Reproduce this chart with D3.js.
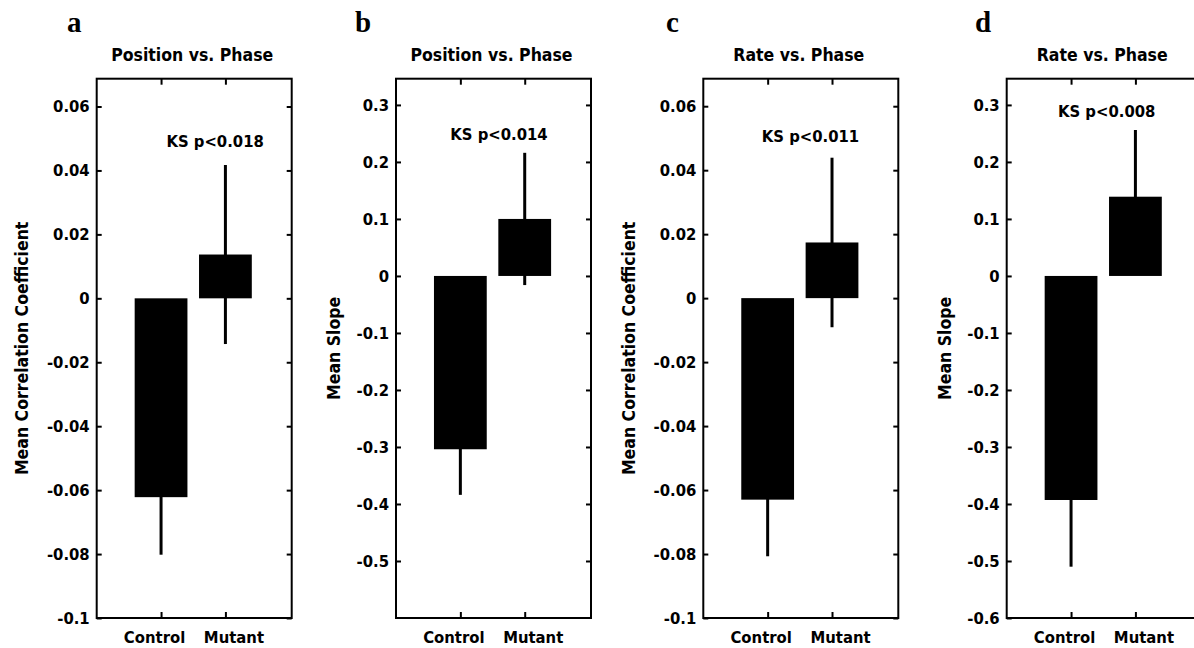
<!DOCTYPE html>
<html>
<head>
<meta charset="utf-8">
<script src="https://cdn.jsdelivr.net/npm/d3@7"></script>
<style>
  body { margin: 0; background: #fff; }
  text { font-family: "DejaVu Sans Condensed", "DejaVu Sans", sans-serif; font-stretch: condensed; font-weight: bold; fill: #000; }
</style>
</head>
<body>
<script>
// data
const panelLetters = ["a", "b", "c", "d"];
const panelTitles = ["Position vs. Phase", "Position vs. Phase", "Rate vs. Phase", "Rate vs. Phase"];
const yLabels = ["Mean Correlation Coefficient", "Mean Slope", "Mean Correlation Coefficient", "Mean Slope"];
const categories = ["Control", "Mutant"];
const controlMean = [-0.0622, -0.304, -0.063, -0.393];
const mutantMean = [0.0137, 0.100, 0.0174, 0.139];
const controlErr = [0.018, 0.080, 0.0177, 0.117];
const mutantErr = [0.028, 0.116, 0.0265, 0.117];
const ksLabels = ["KS p<0.018", "KS p<0.014", "KS p<0.011", "KS p<0.008"];
const corrTicks = [-0.1, -0.08, -0.06, -0.04, -0.02, 0, 0.02, 0.04, 0.06];
const slopeTicksB = [-0.5, -0.4, -0.3, -0.2, -0.1, 0, 0.1, 0.2, 0.3];
const slopeTicksD = [-0.6, -0.5, -0.4, -0.3, -0.2, -0.1, 0, 0.1, 0.2, 0.3];
const yTicks = [corrTicks, slopeTicksB, corrTicks, slopeTicksD];

// layout
const width = 1194, height = 648;
const plotTop = 78.7, plotBottom = 618, plotWidth = 195;
const panelLeft = [96.7, 396, 703.3, 1006.7];
const letterX = [67, 355, 666, 975];
const ylabelOffset = [68.5, 56, 68.5, 56];
const yDomains = [[-0.1, 0.0687], [-0.6, 0.346], [-0.1, 0.0686], [-0.6, 0.346]];
const annotPos = [[1.84, 0.0472], [1.60, 0.2386], [1.666, 0.0489], [1.554, 0.2795]];
const catLabelShift = [-7, 8];
const barWidth = 0.82;

const svg = d3.select("body").append("svg")
    .attr("width", width)
    .attr("height", height);

svg.append("rect").attr("width", width).attr("height", height).attr("fill", "#fff");

const fmt = v => String(+v.toFixed(2));

panelLetters.forEach(function (letter, p) {
    const x = d3.scaleLinear().domain([0, 3.03]).range([panelLeft[p], panelLeft[p] + plotWidth]);
    const y = d3.scaleLinear().domain(yDomains[p]).range([plotBottom, plotTop]);
    const g = svg.append("g");

    // panel letter
    g.append("text")
        .attr("x", letterX[p]).attr("y", 31.7)
        .style("font-family", "'Liberation Serif', serif")
        .style("font-stretch", "normal")
        .style("font-size", "29px")
        .text(letter);

    // title
    g.append("text")
        .attr("x", panelLeft[p] + plotWidth / 2 - 2).attr("y", 61)
        .attr("text-anchor", "middle")
        .style("font-size", "17.5px")
        .text(panelTitles[p]);

    const means = [controlMean[p], mutantMean[p]];
    const errs = [controlErr[p], mutantErr[p]];

    // bars
    g.selectAll(".bar")
        .data(means)
        .enter().append("rect")
        .attr("x", (d, i) => x(i + 1 - barWidth / 2))
        .attr("width", x(barWidth) - x(0))
        .attr("y", d => Math.min(y(0), y(d)))
        .attr("height", d => Math.abs(y(d) - y(0)))
        .attr("fill", "#000");

    // error bars
    g.selectAll(".err")
        .data(means)
        .enter().append("line")
        .attr("x1", (d, i) => x(i + 1))
        .attr("x2", (d, i) => x(i + 1))
        .attr("y1", (d, i) => y(d - errs[i]))
        .attr("y2", (d, i) => y(d + errs[i]))
        .attr("stroke", "#000")
        .attr("stroke-width", 3);

    // axes with inward ticks
    const catTicks = categories.map((c, i) => i + 1);
    const left = d3.axisLeft(y).tickValues(yTicks[p]).tickFormat(fmt)
        .tickSizeInner(-5).tickSizeOuter(0).tickPadding(7);
    const right = d3.axisRight(y).tickValues(yTicks[p]).tickFormat("")
        .tickSizeInner(-5).tickSizeOuter(0);
    const bottom = d3.axisBottom(x).tickValues(catTicks).tickFormat((d, i) => categories[i])
        .tickSizeInner(-6).tickSizeOuter(0).tickPadding(13);
    const top = d3.axisTop(x).tickValues(catTicks).tickFormat("")
        .tickSizeInner(-6).tickSizeOuter(0);

    [[left, `translate(${panelLeft[p]},0)`],
     [right, `translate(${panelLeft[p] + plotWidth},0)`],
     [bottom, `translate(0,${plotBottom})`],
     [top, `translate(0,${plotTop})`]].forEach(function (a) {
        const ax = g.append("g").attr("transform", a[1]).call(a[0]);
        ax.select(".domain").remove();
        ax.selectAll("line").attr("stroke", "#000").attr("stroke-width", 2);
        ax.selectAll("text").style("font-size", "16.5px").attr("fill", "#000")
            .attr("font-family", null);
    });
    g.selectAll("g").filter(function () { return d3.select(this).attr("transform") === `translate(0,${plotBottom})`; })
        .selectAll("text").attr("dx", (d, i) => catLabelShift[i]);

    // box
    g.append("rect")
        .attr("x", panelLeft[p]).attr("y", plotTop)
        .attr("width", plotWidth).attr("height", plotBottom - plotTop)
        .attr("fill", "none").attr("stroke", "#000").attr("stroke-width", 2);

    // y label
    const cy = (plotTop + plotBottom) / 2;
    const lx = panelLeft[p] - ylabelOffset[p];
    g.append("text")
        .attr("transform", `translate(${lx},${cy}) rotate(-90)`)
        .attr("text-anchor", "middle")
        .style("font-size", "17.5px")
        .text(yLabels[p]);

    // KS annotation
    g.append("text")
        .attr("x", x(annotPos[p][0])).attr("y", y(annotPos[p][1]))
        .attr("text-anchor", "middle")
        .style("font-size", "16.5px")
        .text(ksLabels[p]);
});
</script>
</body>
</html>
